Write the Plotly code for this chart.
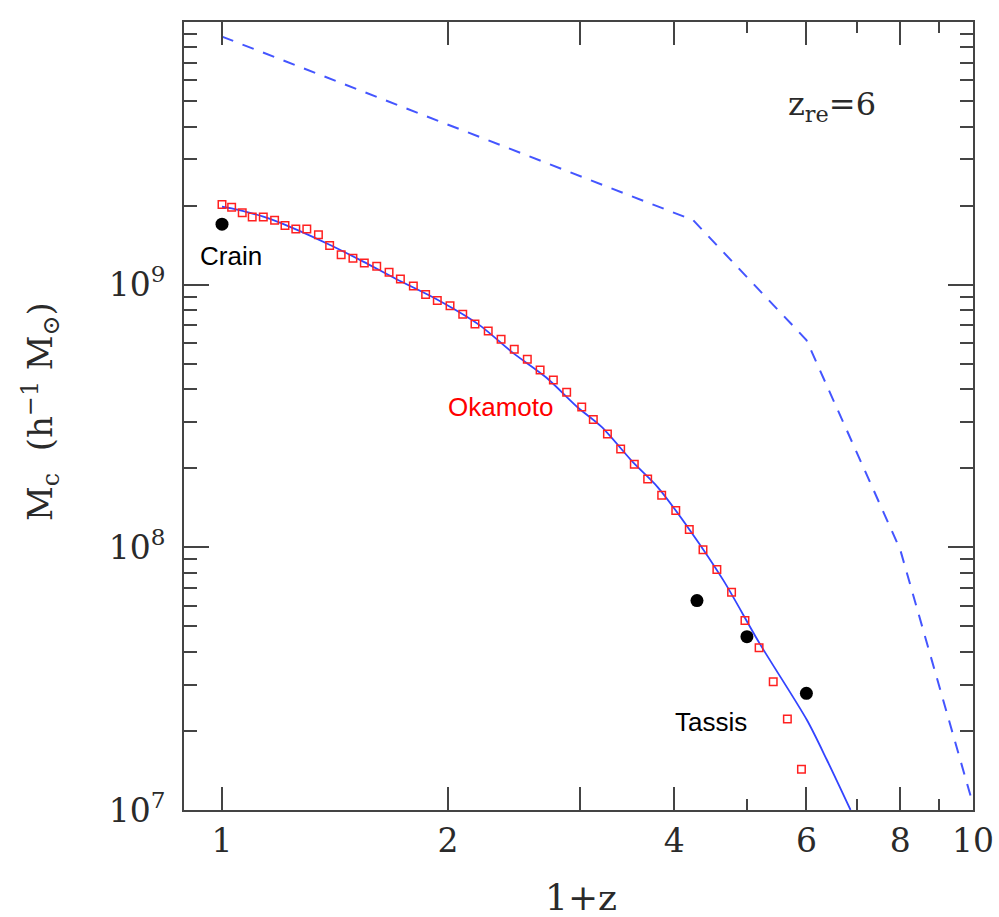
import plotly.graph_objects as go

# ---- data ----
# solid blue curve (1+z, Mc)
fit_x = [1.0, 1.03, 1.135, 1.232, 1.393, 1.542, 1.708, 1.931, 2.2, 2.44, 2.7, 2.98, 3.2, 3.53, 3.8, 4.2,
         4.65, 5.2, 6.01, 6.39, 6.87]
fit_y = [1.98e9, 1.95e9, 1.815e9, 1.66e9, 1.416e9, 1.224e9, 1.049e9, 8.80e8, 7.03e8, 5.5e8, 4.44e8, 3.4e8,
         2.88e8, 2.1e8, 1.70e8, 1.16e8, 7.5e7, 4.3e7, 2.20e7, 1.55e7, 1.0e7]

# dashed blue curve
dash_x = [1.0, 4.24, 6.0, 8.0, 10.0]
dash_y = [8.8e9, 1.76e9, 6.16e8, 9.8e7, 1.05e7]

# Okamoto (red open squares)
oka_x = [1.00, 1.030, 1.064, 1.097, 1.135, 1.175, 1.213, 1.254, 1.297, 1.344, 1.391, 1.441, 1.494, 1.547,
         1.607, 1.669, 1.728, 1.798, 1.867, 1.935, 2.012, 2.092, 2.172, 2.262, 2.353, 2.450, 2.550, 2.652,
         2.762, 2.877, 3.013, 3.122, 3.26, 3.395, 3.54, 3.688, 3.85, 4.02, 4.19, 4.37, 4.56, 4.77, 4.97,
         5.19, 5.42, 5.66, 5.91]
oka_y = [2.02e9, 1.97e9, 1.88e9, 1.81e9, 1.81e9, 1.76e9, 1.68e9, 1.63e9, 1.63e9, 1.55e9, 1.41e9, 1.30e9,
         1.26e9, 1.21e9, 1.175e9, 1.115e9, 1.05e9, 9.89e8, 9.18e8, 8.71e8, 8.32e8, 7.72e8, 7.09e8, 6.66e8,
         6.20e8, 5.68e8, 5.20e8, 4.73e8, 4.34e8, 3.89e8, 3.42e8, 3.07e8, 2.70e8, 2.37e8, 2.07e8, 1.82e8,
         1.58e8, 1.38e8, 1.17e8, 9.8e7, 8.24e7, 6.75e7, 5.26e7, 4.15e7, 3.08e7, 2.22e7, 1.43e7]

# Crain / Tassis (black dots)
obs_x = [1.0, 4.29, 5.0, 6.0]
obs_y = [1.70e9, 6.27e7, 4.57e7, 2.78e7]

# ticks
x_major = [1, 2, 3, 4, 6, 8, 10]
x_major_text = ["1", "2", "", "4", "6", "8", "10"]
x_minor = [5, 7, 9]
y_major = [1e7, 1e8, 1e9, 1e10]
y_major_text = ["10<sup>7</sup>", "10<sup>8</sup>", "10<sup>9</sup>", "10<sup>10</sup>"]
y_minor = [m * 10 ** e for e in (7, 8, 9) for m in range(2, 10)]

SERIF = "DejaVu Serif"
SANS = "Liberation Sans"
AX = "#444444"
TXT = "#2a2a2a"

fig = go.Figure()
fig.add_trace(go.Scatter(x=dash_x, y=dash_y, mode="lines",
                         line=dict(color="#4455ff", width=2, dash="12px,10px")))
fig.add_trace(go.Scatter(x=fit_x, y=fit_y, mode="lines",
                         line=dict(color="#3344ff", width=1.8, shape="spline", smoothing=0.8)))
fig.add_trace(go.Scatter(x=oka_x, y=oka_y, mode="markers",
                         marker=dict(symbol="square-open", size=7.5, color="#ff2020", line=dict(width=1.5))))
fig.add_trace(go.Scatter(x=obs_x, y=obs_y, mode="markers",
                         marker=dict(symbol="circle", size=13, color="black")))

L, R, T, B = 184, 26, 22, 107
W, H = 999, 917
pw, ph = W - L - R, H - T - B


def px(xp):
    return (xp - L) / pw


def py(yp):
    return (T + ph - yp) / ph


fig.update_layout(
    width=W, height=H, margin=dict(l=L, r=R, t=T, b=B, autoexpand=False),
    paper_bgcolor="white", plot_bgcolor="white", showlegend=False,
    xaxis=dict(type="log", range=[-0.0506, 1.0], showgrid=False, zeroline=False, automargin=False,
               showline=True, linecolor=AX, linewidth=2, mirror="ticks",
               ticks="inside", ticklen=23, tickwidth=1.5, tickcolor=AX,
               tickvals=x_major, ticktext=x_major_text,
               tickfont=dict(family=SERIF, size=33, color=TXT),
               minor=dict(tickvals=x_minor, ticks="inside", ticklen=11, tickwidth=1.5, tickcolor=AX)),
    yaxis=dict(type="log", range=[7, 10], showgrid=False, zeroline=False, automargin=False,
               showline=True, linecolor=AX, linewidth=2, mirror="ticks",
               ticks="inside", ticklen=25, tickwidth=1.5, tickcolor=AX,
               tickvals=y_major, ticktext=y_major_text, ticklabelstandoff=10,
               tickfont=dict(family=SERIF, size=33, color=TXT),
               minor=dict(tickvals=y_minor, ticks="inside", ticklen=13, tickwidth=1.5, tickcolor=AX)),
    annotations=[
        dict(text="Crain", xref="paper", yref="paper", x=px(230.5), y=py(256), showarrow=False,
             font=dict(family=SANS, size=26, color="black"), xanchor="center", yanchor="middle"),
        dict(text="Okamoto", xref="paper", yref="paper", x=px(501), y=py(407), showarrow=False,
             font=dict(family=SANS, size=26, color="red"), xanchor="center", yanchor="middle"),
        dict(text="Tassis", xref="paper", yref="paper", x=px(711), y=py(722), showarrow=False,
             font=dict(family=SANS, size=26, color="black"), xanchor="center", yanchor="middle"),
        dict(text="z<sub>re</sub>=6", xref="paper", yref="paper", x=px(786), y=py(106), showarrow=False,
             font=dict(family=SERIF, size=32, color=TXT), xanchor="left", yanchor="middle"),
        dict(text="1+z", xref="paper", yref="paper", x=px(581), y=py(897), showarrow=False,
             font=dict(family=SERIF, size=36, color=TXT), xanchor="center", yanchor="middle"),
        dict(text="M<sub>c</sub>  (h<sup>−1</sup> M<sub>⊙</sub>)", xref="paper", yref="paper",
             x=px(40), y=py(412), showarrow=False, textangle=-90,
             font=dict(family=SERIF, size=34, color=TXT), xanchor="center", yanchor="middle"),
    ],
)

fig.write_html("out.html")
